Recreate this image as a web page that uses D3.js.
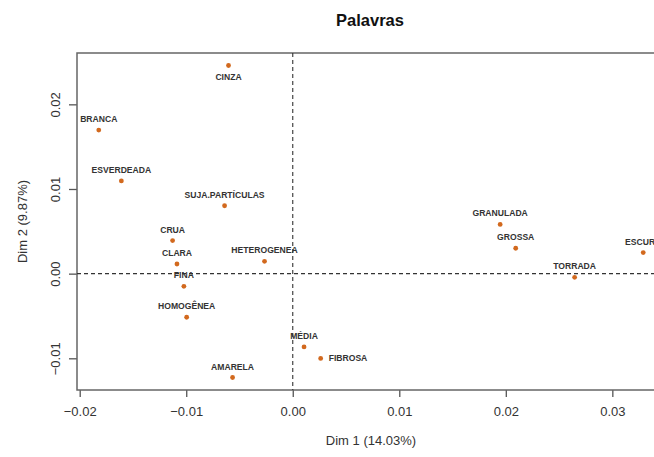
<!DOCTYPE html>
<html>
<head>
<meta charset="utf-8">
<script src="https://cdn.jsdelivr.net/npm/d3@7"></script>
<style>
  html, body { margin: 0; padding: 0; background: #fff; }
  svg { display: block; font-family: "Liberation Sans", Arial, sans-serif; }
</style>
</head>
<body>
<svg id="chart" width="654" height="457"></svg>
<script>
const title = "Palavras";
const xTitle = "Dim 1 (14.03%)";
const yTitle = "Dim 2 (9.87%)";
const words = ["CINZA","BRANCA","ESVERDEADA","SUJA.PARTÍCULAS","CRUA","CLARA","HETEROGENEA","FINA","HOMOGÊNEA","MÉDIA","FIBROSA","AMARELA","GRANULADA","GROSSA","TORRADA","ESCURA"];
const dim1 = [-0.00603,-0.01821,-0.01609,-0.00640,-0.01128,-0.01087,-0.00265,-0.01022,-0.00996,0.00106,0.00262,-0.00565,0.01947,0.02093,0.02646,0.03290];
const dim2 = [0.02459,0.01696,0.01095,0.00802,0.00391,0.00114,0.00146,-0.00150,-0.00515,-0.00866,-0.01001,-0.01227,0.00581,0.00300,-0.00044,0.00249];
// label side, R "pos" convention: 1 below, 3 above, 4 right
const labelPos = [1,3,3,3,3,3,3,3,3,3,4,3,3,3,3,3];
const xTicks = [-0.02,-0.01,0.00,0.01,0.02,0.03];
const yTicks = [-0.01,0.00,0.01,0.02];

const svg = d3.select("#chart");
const m = {left: 77, right: 665, top: 53, bottom: 390};

function padded(v) {
  const [a, b] = d3.extent(v);
  const p = (b - a) * 0.04;
  return [a - p, b + p];
}
const x = d3.scaleLinear().domain(padded(dim1)).range([m.left, m.right]);
const y = d3.scaleLinear().domain(padded(dim2)).range([m.bottom, m.top]);

const fmt = d3.format(".2f");

// axes
const xAxis = svg.append("g").attr("transform", `translate(0,${m.bottom})`)
  .call(d3.axisBottom(x).tickValues(xTicks).tickFormat(fmt).tickSize(7).tickPadding(10));
const yAxis = svg.append("g").attr("transform", `translate(${m.left},0)`)
  .call(d3.axisLeft(y).tickValues(yTicks).tickFormat(fmt).tickSize(8));
[xAxis, yAxis].forEach(g => {
  g.select(".domain").remove();
  g.selectAll(".tick line").attr("stroke", "#555").attr("stroke-width", 1.3);
  g.selectAll(".tick text").attr("fill", "#333").attr("font-size", 13)
    .attr("font-family", "'Liberation Sans', Arial, sans-serif");
});
yAxis.selectAll(".tick text")
  .attr("x", null).attr("dy", null)
  .attr("text-anchor", "middle")
  .attr("transform", "translate(-22,0) rotate(-90)")
  .attr("dy", "0.35em");
xAxis.selectAll(".tick text").attr("dy", "0.71em");

// box
svg.append("rect")
  .attr("x", m.left).attr("y", m.top)
  .attr("width", m.right - m.left).attr("height", m.bottom - m.top)
  .attr("fill", "none").attr("stroke", "#666").attr("stroke-width", 1.5);

// reference lines
svg.append("line")
  .attr("x1", x(0)).attr("x2", x(0)).attr("y1", m.top).attr("y2", m.bottom)
  .attr("stroke", "#333").attr("stroke-width", 1.1).attr("stroke-dasharray", "4,3");
svg.append("line")
  .attr("x1", m.left).attr("x2", m.right).attr("y1", y(0)).attr("y2", y(0))
  .attr("stroke", "#333").attr("stroke-width", 1.1).attr("stroke-dasharray", "4,3");

const data = words.map((w, i) => ({w, x: dim1[i], y: dim2[i], pos: labelPos[i]}));

// points
svg.append("g").selectAll("circle").data(data).join("circle")
  .attr("cx", d => x(d.x)).attr("cy", d => y(d.y)).attr("r", 2.4)
  .attr("fill", "#D2691E");

// labels
svg.append("g").selectAll("text").data(data).join("text")
  .attr("x", d => x(d.x) + (d.pos === 4 ? 8 : 0))
  .attr("y", d => y(d.y) + (d.pos === 3 ? -11 : d.pos === 1 ? 12 : 0))
  .attr("dy", "0.35em")
  .attr("text-anchor", d => d.pos === 4 ? "start" : "middle")
  .attr("font-size", 8.6)
  .attr("fill", "#333")
  .attr("font-weight", 600)
  .text(d => d.w);

// titles
svg.append("text").attr("x", 370).attr("y", 20).attr("dy", "0.35em")
  .attr("text-anchor", "middle").attr("font-size", 16.5).attr("font-weight", "bold")
  .attr("fill", "#111").text(title);
svg.append("text").attr("x", (m.left + m.right) / 2).attr("y", 440).attr("dy", "0.35em")
  .attr("text-anchor", "middle").attr("font-size", 13).attr("fill", "#333").text(xTitle);
svg.append("text").attr("transform", `translate(22,${(m.top + m.bottom) / 2}) rotate(-90)`)
  .attr("dy", "0.35em").attr("text-anchor", "middle").attr("font-size", 13)
  .attr("fill", "#333").text(yTitle);
</script>
</body>
</html>
